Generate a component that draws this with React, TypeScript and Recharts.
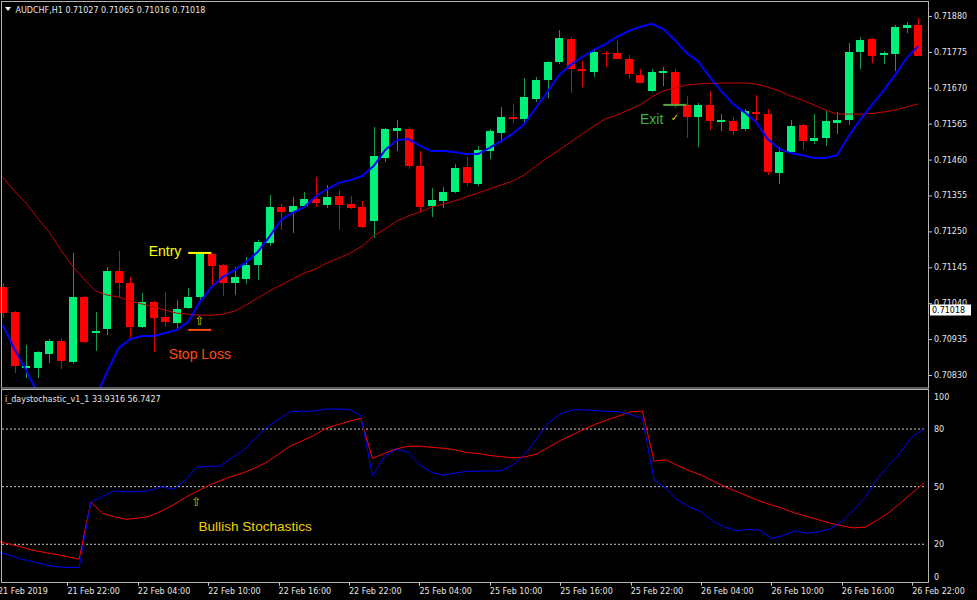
import React from 'react';
import { ComposedChart, Bar, Line, XAxis, YAxis, ReferenceLine, ReferenceDot } from 'recharts';

// ---- categories / ticks ----
const timeTickIndex = [0, 6, 12, 18, 24, 30, 36, 42, 48, 54, 60, 66, 72, 78];
const timeTickLabels = [
  '21 Feb 2019', '21 Feb 22:00', '22 Feb 04:00', '22 Feb 10:00', '22 Feb 16:00', '22 Feb 22:00',
  '25 Feb 04:00', '25 Feb 10:00', '25 Feb 16:00', '25 Feb 22:00', '26 Feb 04:00', '26 Feb 10:00',
  '26 Feb 16:00', '26 Feb 22:00',
];
const priceTicks = [0.7188, 0.71775, 0.7167, 0.71565, 0.7146, 0.71355, 0.7125, 0.71145, 0.7104, 0.70935, 0.7083];
const stochTicks = [0, 20, 50, 80, 100];
const stochLevels = [20, 50, 80];

// ---- OHLC ----
const opens = [
  0.71087, 0.71014, 0.70852, 0.70850, 0.70891, 0.70929, 0.70868, 0.71058, 0.70953, 0.70964,
  0.71134, 0.71099, 0.70970, 0.71043, 0.71000, 0.70982, 0.71026, 0.71058, 0.71184, 0.71152,
  0.71099, 0.71111, 0.71152, 0.71216, 0.71321, 0.71307, 0.71324, 0.71345, 0.71327, 0.71353,
  0.71330, 0.71321, 0.71280, 0.71465, 0.71544, 0.71549, 0.71441, 0.71324, 0.71339, 0.71365,
  0.71438, 0.71389, 0.71485, 0.71538, 0.71585, 0.71579, 0.71637, 0.71693, 0.71745, 0.71813,
  0.71725, 0.71716, 0.71773, 0.71772, 0.71754, 0.71707, 0.71661, 0.71715, 0.71716, 0.71620,
  0.71585, 0.71620, 0.71571, 0.71573, 0.71549, 0.71599, 0.71593, 0.71421, 0.71482, 0.71561,
  0.71514, 0.71523, 0.71568, 0.71576, 0.71775, 0.71813, 0.71766, 0.71769, 0.71845, 0.71854,
];
const highs = [
  0.71099, 0.71017, 0.70918, 0.70900, 0.70935, 0.70938, 0.71187, 0.71061, 0.71014, 0.71146,
  0.71193, 0.71117, 0.71070, 0.71046, 0.71073, 0.71049, 0.71084, 0.71190, 0.71186, 0.71155,
  0.71146, 0.71175, 0.71225, 0.71356, 0.71330, 0.71351, 0.71365, 0.71409, 0.71386, 0.71371,
  0.71353, 0.71339, 0.71555, 0.71551, 0.71576, 0.71555, 0.71485, 0.71377, 0.71380, 0.71447,
  0.71468, 0.71500, 0.71549, 0.71614, 0.71623, 0.71699, 0.71702, 0.71748, 0.71839, 0.71819,
  0.71748, 0.71781, 0.71778, 0.71807, 0.71766, 0.71725, 0.71725, 0.71731, 0.71725, 0.71646,
  0.71626, 0.71661, 0.71593, 0.71585, 0.71608, 0.71649, 0.71608, 0.71497, 0.71576, 0.71563,
  0.71593, 0.71605, 0.71599, 0.71801, 0.71819, 0.71816, 0.71778, 0.71854, 0.71862, 0.71874,
];
const lows = [
  0.70997, 0.70836, 0.70821, 0.70821, 0.70865, 0.70847, 0.70862, 0.70923, 0.70900, 0.70947,
  0.71055, 0.70938, 0.70967, 0.70897, 0.70970, 0.70967, 0.71023, 0.71046, 0.71087, 0.71061,
  0.71064, 0.71096, 0.71108, 0.71207, 0.71254, 0.71245, 0.71321, 0.71321, 0.71318, 0.71254,
  0.71315, 0.71260, 0.71231, 0.71453, 0.71485, 0.71432, 0.71307, 0.71292, 0.71318, 0.71362,
  0.71383, 0.71383, 0.71462, 0.71509, 0.71567, 0.71567, 0.71628, 0.71640, 0.71740, 0.71655,
  0.71672, 0.71702, 0.71731, 0.71753, 0.71696, 0.71683, 0.71658, 0.71675, 0.71611, 0.71523,
  0.71497, 0.71547, 0.71544, 0.71532, 0.71544, 0.71573, 0.71415, 0.71389, 0.71481, 0.71488,
  0.71506, 0.71500, 0.71535, 0.71561, 0.71725, 0.71743, 0.71740, 0.71719, 0.71830, 0.71762,
];
const closes = [
  0.71011, 0.70856, 0.70855, 0.70897, 0.70929, 0.70871, 0.71058, 0.70926, 0.70959, 0.71134,
  0.71099, 0.70970, 0.71043, 0.70997, 0.70985, 0.71023, 0.71058, 0.71187, 0.71149, 0.71099,
  0.71117, 0.71152, 0.71219, 0.71321, 0.71307, 0.71324, 0.71345, 0.71333, 0.71351, 0.71327,
  0.71318, 0.71263, 0.71470, 0.71549, 0.71552, 0.71441, 0.71321, 0.71342, 0.71365, 0.71435,
  0.71391, 0.71488, 0.71544, 0.71585, 0.71579, 0.71643, 0.71693, 0.71745, 0.71816, 0.71725,
  0.71719, 0.71775, 0.71769, 0.71754, 0.71710, 0.71684, 0.71716, 0.71718, 0.71620, 0.71585,
  0.71620, 0.71573, 0.71577, 0.71544, 0.71602, 0.71593, 0.71424, 0.71482, 0.71558, 0.71514,
  0.71523, 0.71573, 0.71577, 0.71775, 0.71810, 0.71763, 0.71772, 0.71848, 0.71854, 0.71763,
];

// ---- moving averages ----
const maFast = [
  0.70976, 0.70906, 0.70845, 0.70777, 0.70728, 0.70704, 0.70713, 0.70742, 0.70763, 0.70839,
  0.70909, 0.70935, 0.70944, 0.70944, 0.70953, 0.70962, 0.70985, 0.71043, 0.71087, 0.71117,
  0.71137, 0.71160, 0.71190, 0.71234, 0.71283, 0.71304, 0.71321, 0.71353, 0.71374, 0.71392,
  0.71400, 0.71412, 0.71441, 0.71488, 0.71517, 0.71520, 0.71500, 0.71485, 0.71485, 0.71482,
  0.71476, 0.71476, 0.71494, 0.71514, 0.71535, 0.71564, 0.71611, 0.71658, 0.71707, 0.71737,
  0.71760, 0.71781, 0.71798, 0.71819, 0.71836, 0.71848, 0.71857, 0.71842, 0.71810, 0.71772,
  0.71748, 0.71702, 0.71661, 0.71623, 0.71599, 0.71570, 0.71520, 0.71491, 0.71479, 0.71473,
  0.71465, 0.71465, 0.71473, 0.71529, 0.71576, 0.71620, 0.71661, 0.71707, 0.71757, 0.71792,
];
const maSlow = [
  0.71409, 0.71368, 0.71333, 0.71289, 0.71248, 0.71196, 0.71149, 0.71111, 0.71076, 0.71064,
  0.71058, 0.71046, 0.71038, 0.71029, 0.71020, 0.71011, 0.71008, 0.71005, 0.71005, 0.71008,
  0.71017, 0.71035, 0.71055, 0.71076, 0.71093, 0.71111, 0.71128, 0.71140, 0.71158, 0.71172,
  0.71187, 0.71207, 0.71237, 0.71257, 0.71280, 0.71295, 0.71307, 0.71321, 0.71330, 0.71339,
  0.71351, 0.71362, 0.71374, 0.71386, 0.71397, 0.71415, 0.71441, 0.71465, 0.71488, 0.71511,
  0.71535, 0.71558, 0.71579, 0.71590, 0.71605, 0.71620, 0.71643, 0.71661, 0.71669, 0.71678,
  0.71681, 0.71683, 0.71684, 0.71684, 0.71684, 0.71681, 0.71672, 0.71661, 0.71646, 0.71634,
  0.71620, 0.71605, 0.71593, 0.71593, 0.71593, 0.71595, 0.71599, 0.71605, 0.71614, 0.71623,
];

// ---- stochastic ----
const stochMain = [
  16, 14.5, 12.3, 11, 9.5, 8.3, 8, 7.8, 42, 45,
  47.9, 47.3, 47.5, 47.9, 50, 48.6, 53, 60, 60.6, 60.7,
  65, 69, 75, 81, 85, 89, 89.3, 89.3, 90.4, 90.4,
  90.2, 87, 55.7, 65.6, 69.5, 68, 61.5, 57.5, 56, 57,
  58, 58, 58.2, 58.3, 61.5, 67, 75, 83.2, 87.8, 90,
  90, 89.6, 89.2, 89, 87.5, 85.5, 53.5, 49, 43, 39.5,
  37, 32, 29, 27, 27.8, 27.3, 23.1, 24.5, 27, 25.8,
  26.5, 28, 32, 37.8, 44.5, 54, 61, 68, 76, 80,
];
const stochSignal = [
  21.7, 20.2, 18.7, 17, 15.8, 14.8, 13.5, 12.2, 42, 36.1,
  34.3, 33, 33.6, 34.6, 37.3, 40.4, 44.2, 47.4, 50.5, 53,
  55.3, 57.2, 59.8, 62.8, 66.9, 71.2, 73.8, 76.6, 80.3, 82.2,
  84, 85.5, 64.7, 67.3, 69.6, 71, 71.1, 70.5, 70, 69.2,
  67.8, 67.3, 66.2, 65.6, 65, 65.5, 67, 70.5, 74, 76.8,
  79.8, 82.5, 84.8, 86.8, 89, 89.3, 63.3, 64, 61, 58.3,
  56, 53, 50, 47.5, 45, 42.5, 40.5, 38.5, 36.3, 34.5,
  32.8, 31, 29.6, 28.5, 29, 32.5, 36.5, 41.5, 46.8, 52,
];

// ---- annotation values ----
const entryPrice = 0.71187;
const stopPrice = 0.70962;
const exitPrice = 0.7162;
const entryLabelPrice = 0.71193;
const stopLabelPrice = 0.70891;
const exitLabelPrice = 0.71579;
const checkPrice = 0.71582;
const arrowPrice = 0.70988;
const stochArrowValue = 42;
const stochLabelValue = 29;
const lastPrice = '0.71018';

const data = opens.map((open, i) => ({
  i, open, high: highs[i], low: lows[i], close: closes[i], fast: maFast[i], slow: maSlow[i],
}));
const stochData = stochMain.map((k, i) => ({ i, k, d: stochSignal[i] }));

const BULL = '#00f07a';
const BEAR = '#ff0000';
const BULL_WICK = '#159a50';
const BEAR_WICK = '#e00000';
const TXT = '#e6e6e6';
const AXIS_FONT = 'DejaVu Sans';

const Candle = (props: any) => {
  const { x, y, width, height, payload } = props;
  if (!payload) return null;
  const { open, close, high, low } = payload;
  const top = Math.min(y, y + height);
  const h = Math.abs(height);
  const ratio = h / (high - low || 1);
  const yOf = (p: number) => top + (high - p) * ratio;
  const up = close >= open;
  const cx = Math.round(x + width / 2) + 0.5;
  const bTop = yOf(Math.max(open, close));
  const bBot = yOf(Math.min(open, close));
  return (
    <g shapeRendering="crispEdges">
      <line x1={cx} x2={cx} y1={top} y2={top + h} stroke={up ? BULL_WICK : BEAR_WICK} strokeWidth={1} />
      <rect x={Math.round(x)} y={bTop} width={width} height={Math.max(1.5, bBot - bTop)} fill={up ? BULL : BEAR} />
    </g>
  );
};

const PriceTick = (props: any) => {
  const { x, y, payload } = props;
  return (
    <g>
      <line x1={x + 5} x2={x + 8} y1={y + 0.5} y2={y + 0.5} stroke="#c8c8c8" />
      <text x={x + 10} y={y + 3} fill={TXT} fontSize={8} fontFamily={AXIS_FONT}>
        {Number(payload.value).toFixed(5)}
      </text>
    </g>
  );
};

const StochTick = (props: any) => {
  const { x, y, payload } = props;
  const v = payload.value;
  const dy = v === 100 ? 6 : v === 0 ? -5.4 : 0;
  return (
    <text x={x + 10} y={y + dy + 3} fill={TXT} fontSize={8} fontFamily={AXIS_FONT}>
      {v}
    </text>
  );
};

const TimeTick = (props: any) => {
  const { x, y, payload } = props;
  const idx = timeTickIndex.indexOf(payload.value);
  return (
    <g>
      <line x1={Math.round(x) + 0.5} x2={Math.round(x) + 0.5} y1={y} y2={y + 3} stroke="#c8c8c8" />
      <text x={x + (idx === 0 ? 1 : 0)} y={y + 11.3} fill={TXT} fontSize={8} fontFamily={AXIS_FONT}>
        {idx >= 0 ? timeTickLabels[idx] : ''}
      </text>
    </g>
  );
};

const textShape = (label: string, color: string, size: number, family = 'Liberation Sans') => (p: any) => (
  <text x={p.cx} y={p.cy} fill={color} fontSize={size} fontFamily={family} textAnchor="middle" dominantBaseline="central">
    {label}
  </text>
);

export default function App() {
  return (
    <div style={{ position: 'absolute', left: 0, top: 0, width: 977, height: 600, background: '#000', overflow: 'hidden' }}>
      <div style={{ position: 'absolute', left: -3, top: 0 }}>
        <ComposedChart width={980} height={390} data={data} margin={{ top: 2, right: 0, bottom: 2, left: 0 }}>
          <XAxis dataKey="i" hide />
          <YAxis
            orientation="right"
            width={53}
            type="number"
            domain={[0.70792, 0.719209]}
            allowDataOverflow
            ticks={priceTicks}
            interval={0}
            axisLine={false}
            tickLine={false}
            tickSize={0}
            tickMargin={0}
            tick={<PriceTick />}
          />
          <Bar dataKey={(d: any) => [d.low, d.high]} barSize={8} shape={<Candle />} isAnimationActive={false} />
          <Line dataKey="slow" stroke="#cc0000" strokeWidth={1} dot={false} isAnimationActive={false} type="linear" />
          <Line dataKey="fast" stroke="#0000ff" strokeWidth={2} dot={false} isAnimationActive={false} type="linear" />
          <ReferenceLine segment={[{ x: 16, y: entryPrice }, { x: 18, y: entryPrice }]} stroke="#ffff00" strokeWidth={2} ifOverflow="visible" />
          <ReferenceLine segment={[{ x: 16, y: stopPrice }, { x: 18, y: stopPrice }]} stroke="#ff4a14" strokeWidth={2} ifOverflow="visible" />
          <ReferenceLine segment={[{ x: 57, y: exitPrice }, { x: 59, y: exitPrice }]} stroke="#5aa83a" strokeWidth={2} ifOverflow="visible" />
          <ReferenceDot x={14} y={entryLabelPrice} r={0} ifOverflow="visible" shape={textShape('Entry', '#ffff00', 14)} />
          <ReferenceDot x={17} y={stopLabelPrice} r={0} ifOverflow="visible" shape={textShape('Stop Loss', '#ff4a14', 14)} />
          <ReferenceDot x={56} y={exitLabelPrice} r={0} ifOverflow="visible" shape={textShape('Exit', '#3cb43c', 14)} />
          <ReferenceDot x={58} y={checkPrice} r={0} ifOverflow="visible" shape={textShape('✓', '#f0d000', 10, 'DejaVu Sans')} />
          <ReferenceDot x={17} y={arrowPrice} r={0} ifOverflow="visible" shape={textShape('⇧', '#d4c000', 12, 'DejaVu Sans')} />
        </ComposedChart>
      </div>
      <div style={{ position: 'absolute', left: -3, top: 388 }}>
        <ComposedChart width={980} height={212} data={stochData} margin={{ top: 2.6, right: 0, bottom: 0.3, left: 0 }}>
          <XAxis
            dataKey="i"
            ticks={timeTickIndex}
            interval={0}
            height={17}
            axisLine={false}
            tickLine={false}
            tickSize={0}
            tickMargin={0}
            tick={<TimeTick />}
          />
          <YAxis
            orientation="right"
            width={53}
            type="number"
            domain={[0, 100]}
            allowDataOverflow
            ticks={stochTicks}
            interval={0}
            axisLine={false}
            tickLine={false}
            tickSize={0}
            tickMargin={0}
            tick={<StochTick />}
          />
          {stochLevels.map((lv) => (
            <ReferenceLine key={lv} y={lv} stroke="#d0d0d0" strokeDasharray="2 2" strokeWidth={1} />
          ))}
          <Line dataKey="d" stroke="#ff0000" strokeWidth={1} dot={false} isAnimationActive={false} type="linear" />
          <Line dataKey="k" stroke="#0000ff" strokeWidth={1} dot={false} isAnimationActive={false} type="linear" />
          <ReferenceDot x={17} y={stochArrowValue} r={0} ifOverflow="visible" shape={textShape('⇧', '#d4c000', 12, 'DejaVu Sans')} />
          <ReferenceDot x={22} y={stochLabelValue} r={0} ifOverflow="visible" shape={textShape('Bullish Stochastics', '#f0d000', 13.6)} />
        </ComposedChart>
      </div>
      <svg width={977} height={600} style={{ position: 'absolute', left: 0, top: 0, pointerEvents: 'none' }}>
        <rect x={1.5} y={1.5} width={927} height={386.5} fill="none" stroke="#b4b4b4" />
        <rect x={1.5} y={389.5} width={927} height={193} fill="none" stroke="#b4b4b4" />
        <polygon points="5,7 11,7 8,11" fill="#ffffff" />
        <text x={15.5} y={12.5} fill={TXT} fontSize={8} fontFamily={AXIS_FONT}>
          AUDCHF,H1  0.71027 0.71065 0.71016 0.71018
        </text>
        <text x={5} y={401.5} fill={TXT} fontSize={8} fontFamily={AXIS_FONT}>
          i_daystochastic_v1_1 33.9316 56.7427
        </text>
        <rect x={930} y={304.5} width={41} height={11} fill="#ffffff" />
        <text x={932} y={313.2} fill="#000000" fontSize={8} fontFamily={AXIS_FONT}>
          {lastPrice}
        </text>
      </svg>
    </div>
  );
}
